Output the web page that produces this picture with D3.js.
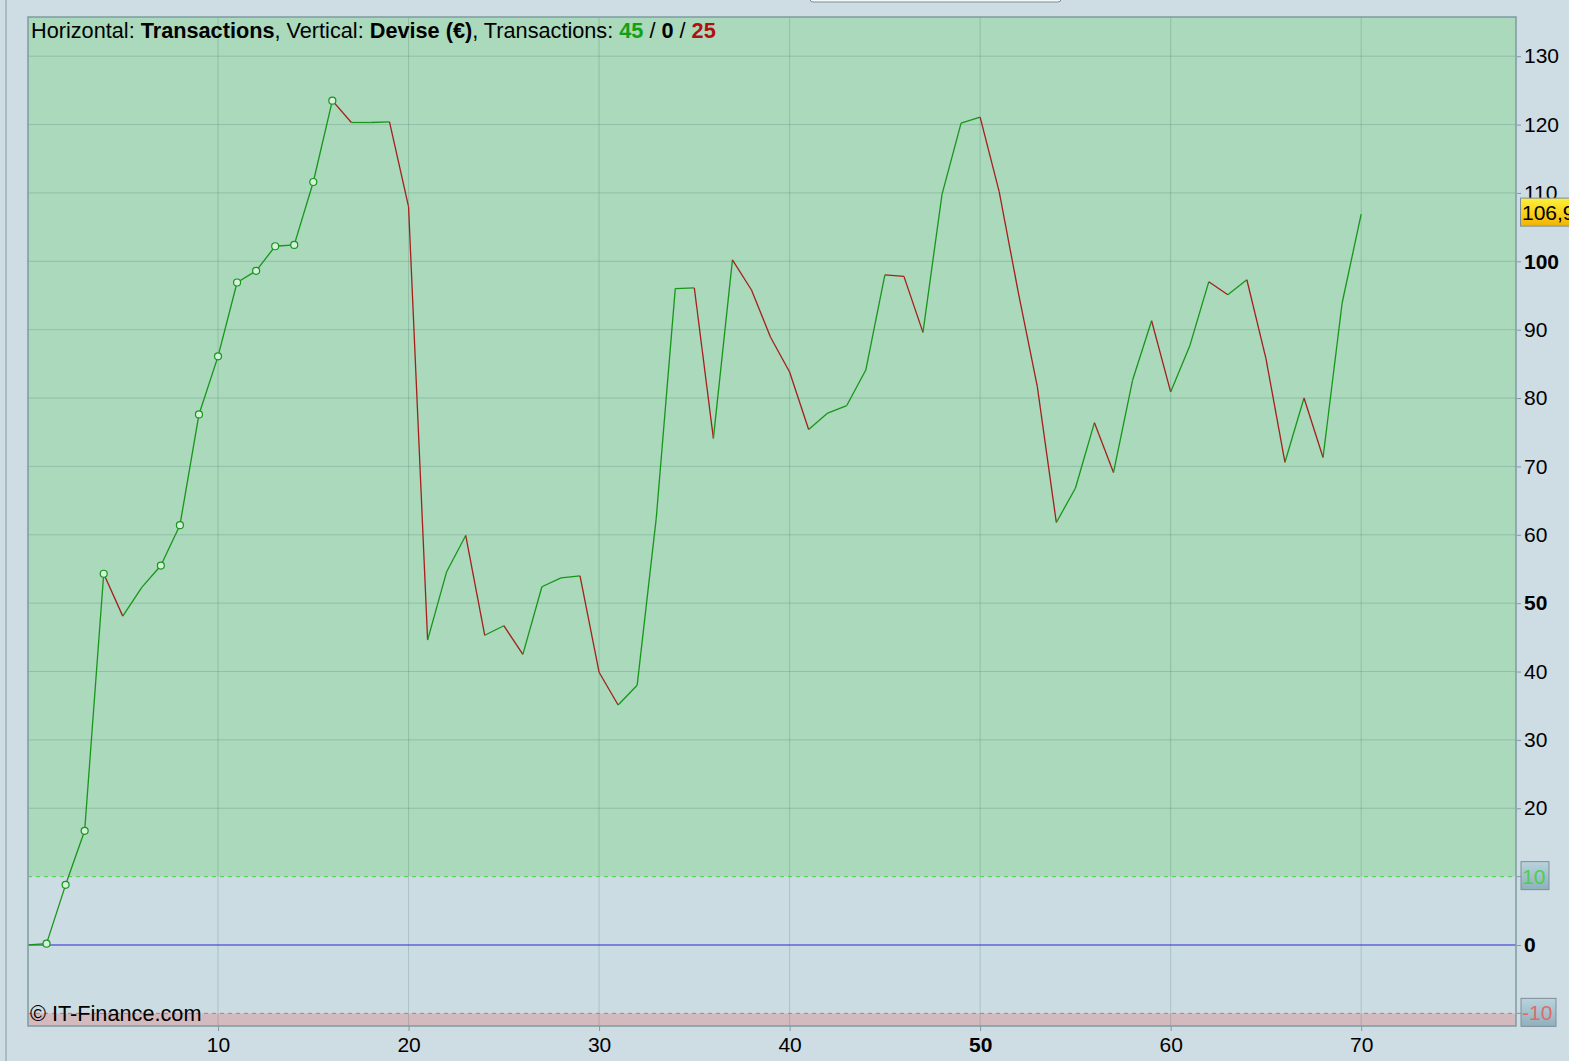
<!DOCTYPE html>
<html lang="en">
<head>
<meta charset="UTF-8">
<title>Equity curve</title>
<script src="https://cdn.jsdelivr.net/npm/d3@7"></script>
<style>
  html, body { margin: 0; padding: 0; background: #cedce3; }
  svg { display: block; font-family: "Liberation Sans", Arial, sans-serif; }
</style>
</head>
<body>
<div id="chart"></div>
<script>
// equity after each transaction (EUR), transaction 0 .. 70
const equity = [
  0, 0.2, 8.8, 16.7, 54.3, 48.1, 52.3, 55.5, 61.4, 77.6,
  86.1, 96.9, 98.6, 102.2, 102.4, 111.6, 123.5, 120.3, 120.3, 120.4,
  108.0, 44.6, 54.6, 59.9, 45.3, 46.7, 42.5, 52.4, 53.7, 54.0,
  39.9, 35.1, 38.0, 62.4, 96.0, 96.1, 74.1, 100.2, 95.8, 88.9,
  83.8, 75.4, 77.8, 78.9, 84.1, 98.0, 97.8, 89.6, 109.8, 120.2,
  121.1, 110.2, 95.5, 81.7, 61.8, 66.8, 76.4, 69.1, 82.6, 91.3,
  80.9, 87.6, 97.0, 95.1, 97.3, 85.8, 70.6, 80.0, 71.3, 93.9,
  106.9
];
const lastLabel = "106,9";
const winCount = 45, flatCount = 0, lossCount = 25;
const xTicks = [10, 20, 30, 40, 50, 60, 70];
const xBold = [50];
const yTicks = [130, 120, 110, 100, 90, 80, 70, 60, 50, 40, 30, 20];
const yBold = [100, 50];
const upperBand = 10, lowerBand = -10;

const W = 1569, H = 1061;
const plot = {left: 28, top: 17, right: 1516, bottom: 1026};

const x = d3.scaleLinear().domain([0, 78.1]).range([27.5, 1515.5]);
const y = d3.scaleLinear().domain([0, 100]).range([945, 261.3]);

const svg = d3.select("#chart").append("svg")
  .attr("width", W).attr("height", H);

svg.append("rect").attr("width", W).attr("height", H).attr("fill", "#cedce3");
svg.append("line").attr("x1", 6).attr("x2", 6).attr("y1", 0).attr("y2", H)
  .attr("stroke", "#9fb1ba").attr("stroke-width", 1.5);
svg.append("rect").attr("x", 810).attr("y", -10).attr("width", 251).attr("height", 12)
  .attr("rx", 3).attr("fill", "#f4f7f8").attr("stroke", "#7d8f99");

const defs = svg.append("defs");
defs.append("clipPath").attr("id", "clip").append("rect")
  .attr("x", plot.left).attr("y", plot.top)
  .attr("width", plot.right - plot.left).attr("height", plot.bottom - plot.top);
const yel = defs.append("linearGradient").attr("id", "yel").attr("x2", 0).attr("y2", 1);
yel.append("stop").attr("offset", 0).attr("stop-color", "#fff03a");
yel.append("stop").attr("offset", 1).attr("stop-color", "#f2b400");
const blu = defs.append("linearGradient").attr("id", "blu").attr("x2", 0).attr("y2", 1);
blu.append("stop").attr("offset", 0).attr("stop-color", "#b9d3dc");
blu.append("stop").attr("offset", 1).attr("stop-color", "#8fb0bd");

const g = svg.append("g").attr("clip-path", "url(#clip)");

// zones
g.append("rect").attr("x", plot.left).attr("y", plot.top)
  .attr("width", plot.right - plot.left).attr("height", y(upperBand) - plot.top)
  .attr("fill", "#aad9bb");
g.append("rect").attr("x", plot.left).attr("y", y(upperBand))
  .attr("width", plot.right - plot.left).attr("height", y(lowerBand) - y(upperBand))
  .attr("fill", "#ccdce3");
g.append("rect").attr("x", plot.left).attr("y", y(lowerBand))
  .attr("width", plot.right - plot.left).attr("height", plot.bottom - y(lowerBand))
  .attr("fill", "#d2babf");

// grid
g.selectAll(".vg").data(xTicks).enter().append("line")
  .attr("x1", d => x(d)).attr("x2", d => x(d))
  .attr("y1", plot.top).attr("y2", plot.bottom)
  .attr("stroke", "rgba(60,100,100,0.22)");
g.selectAll(".hg").data(yTicks).enter().append("line")
  .attr("x1", plot.left).attr("x2", plot.right)
  .attr("y1", d => y(d)).attr("y2", d => y(d))
  .attr("stroke", "rgba(60,100,100,0.22)");

g.append("line").attr("x1", plot.left).attr("x2", plot.right)
  .attr("y1", y(upperBand)).attr("y2", y(upperBand))
  .attr("stroke", "#4ccf4c").attr("stroke-dasharray", "4,4");
g.append("line").attr("x1", plot.left).attr("x2", plot.right)
  .attr("y1", y(lowerBand)).attr("y2", y(lowerBand))
  .attr("stroke", "#e06a6a").attr("stroke-dasharray", "4,4");
g.append("line").attr("x1", plot.left).attr("x2", plot.right)
  .attr("y1", y(0)).attr("y2", y(0))
  .attr("stroke", "#2828d0").attr("stroke-width", 1.2);

// equity segments, green when rising, red when falling
const segs = d3.pairs(equity.map((v, i) => [i, v]));
g.selectAll(".seg").data(segs).enter().append("line")
  .attr("x1", d => x(d[0][0])).attr("y1", d => y(d[0][1]))
  .attr("x2", d => x(d[1][0])).attr("y2", d => y(d[1][1]))
  .attr("stroke", d => d[1][1] >= d[0][1] ? "#17961a" : "#a3201c")
  .attr("stroke-width", 1.3);

// markers on new equity highs
const highs = [];
let runMax = equity[0];
equity.forEach((v, i) => { if (i > 0 && v > runMax) { highs.push([i, v]); runMax = v; } });
g.selectAll(".hi").data(highs).enter().append("circle")
  .attr("cx", d => x(d[0])).attr("cy", d => y(d[1])).attr("r", 3.5)
  .attr("fill", "#d6f0de").attr("stroke", "#17961a").attr("stroke-width", 1.2);

// border
svg.append("rect").attr("x", plot.left).attr("y", plot.top)
  .attr("width", plot.right - plot.left).attr("height", plot.bottom - plot.top)
  .attr("fill", "none").attr("stroke", "#7f9aa4").attr("stroke-width", 1.5);

// right axis
const yAxis = d3.axisRight(y).tickValues(yTicks.concat([0])).tickSize(4).tickPadding(3)
  .tickFormat(d3.format("d"));
const ya = svg.append("g").attr("transform", `translate(${plot.right + 1},0)`).call(yAxis);
ya.select(".domain").remove();
ya.selectAll(".tick line").attr("stroke", "#7f9aa4");
ya.selectAll(".tick text").attr("font-size", 21).attr("fill", "#000")
  .attr("font-family", "Liberation Sans, Arial, sans-serif")
  .attr("font-weight", d => (yBold.includes(d) || d === 0) ? "bold" : "normal");

// band labels
[[upperBand, "10", "#4ccf4c", 28], [lowerBand, "-10", "#e06a6a", 35]].forEach(([v, t, c, w]) => {
  svg.append("line").attr("x1", plot.right + 1).attr("x2", plot.right + 5)
    .attr("y1", y(v)).attr("y2", y(v)).attr("stroke", "#7f9aa4");
  svg.append("rect").attr("x", 1521).attr("y", y(v) - 15).attr("width", w).attr("height", 28)
    .attr("fill", "url(#blu)").attr("stroke", "#7d8f99");
  svg.append("text").attr("x", 1522).attr("y", y(v) + 7).attr("font-size", 21)
    .attr("fill", c).text(t);
});

// last value tag (cut by the window edge, as in the source)
const lastY = y(equity[equity.length - 1]);
svg.append("rect").attr("x", 1520.5).attr("y", lastY - 16).attr("width", 70).attr("height", 28)
  .attr("fill", "url(#yel)").attr("stroke", "#7d8f99");
svg.append("text").attr("x", 1522).attr("y", lastY + 6).attr("font-size", 21)
  .attr("fill", "#000").text(lastLabel);

// bottom axis
const xAxis = d3.axisBottom(x).tickValues(xTicks).tickSize(5).tickPadding(6);
const xa = svg.append("g").attr("transform", `translate(0,${plot.bottom})`).call(xAxis);
xa.select(".domain").remove();
xa.selectAll(".tick line").attr("stroke", "#7f9aa4");
xa.selectAll(".tick text").attr("font-size", 21).attr("fill", "#000")
  .attr("font-family", "Liberation Sans, Arial, sans-serif")
  .attr("font-weight", d => xBold.includes(d) ? "bold" : "normal");

// header
const title = svg.append("text").attr("x", 31).attr("y", 38).attr("font-size", 21.7).attr("fill", "#000");
title.append("tspan").text("Horizontal: ");
title.append("tspan").attr("font-weight", "bold").text("Transactions");
title.append("tspan").text(", Vertical: ");
title.append("tspan").attr("font-weight", "bold").text("Devise (€)");
title.append("tspan").text(", Transactions: ");
title.append("tspan").attr("font-weight", "bold").attr("fill", "#14a014").text(winCount);
title.append("tspan").text(" / ");
title.append("tspan").attr("font-weight", "bold").text(flatCount);
title.append("tspan").text(" / ");
title.append("tspan").attr("font-weight", "bold").attr("fill", "#b01010").text(lossCount);

svg.append("text").attr("x", 30).attr("y", 1021).attr("font-size", 21.7).attr("fill", "#000")
  .text("© IT-Finance.com");
</script>
</body>
</html>
